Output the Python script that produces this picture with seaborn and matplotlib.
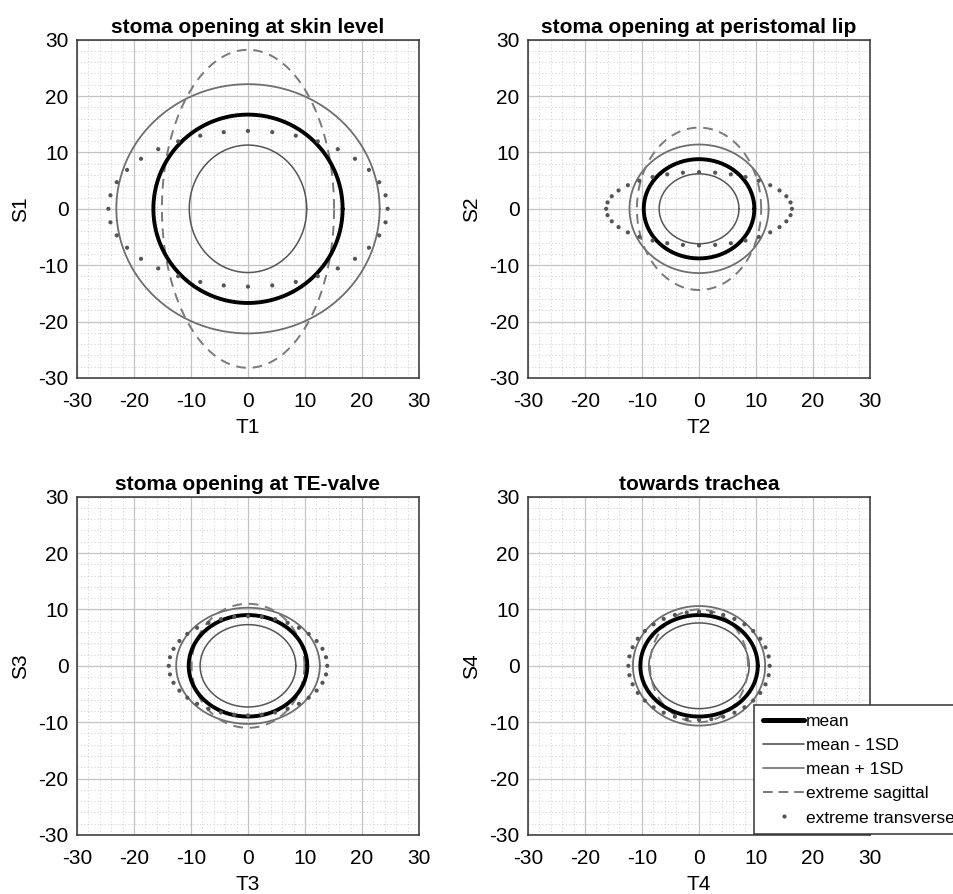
import numpy as np
import pandas as pd
import matplotlib
matplotlib.use("Agg")
import matplotlib.pyplot as plt
from matplotlib.ticker import MultipleLocator
from matplotlib.lines import Line2D
import seaborn as sns

# panel titles / axis labels
titles = ["stoma opening at skin level", "stoma opening at peristomal lip",
          "stoma opening at TE-valve", "towards trachea"]
x_labels = ["T1", "T2", "T3", "T4"]
y_labels = ["S1", "S2", "S3", "S4"]

# half-axes (transverse T, sagittal S) per panel
mean_T = [16.6, 9.7, 10.4, 10.3]
mean_S = [16.7, 8.8, 9.0, 9.0]
minus_T = [10.3, 7.0, 8.4, 8.8]
minus_S = [11.3, 6.2, 7.3, 7.6]
plus_T = [23.1, 12.2, 12.6, 11.6]
plus_S = [22.1, 11.4, 10.3, 10.6]
sag_T = [15.1, 10.9, 9.9, 8.6]
sag_S = [28.2, 14.4, 11.0, 10.0]
trans_T = [24.5, 16.3, 13.9, 12.4]
trans_S = [13.8, 6.5, 8.8, 9.6]

ticks = [-30, -20, -10, 0, 10, 20, 30]

sns.set_theme(style="white")
plt.rcParams['font.family'] = ['Liberation Sans', 'DejaVu Sans']
plt.rcParams['axes.unicode_minus'] = False
plt.rcParams['text.color'] = 'black'
plt.rcParams['axes.labelcolor'] = 'black'


def outline(a, b, n):
    t = np.linspace(0, 2 * np.pi, n)
    return pd.DataFrame({"x": a * np.cos(t), "y": b * np.sin(t)})


def ring(ax, a, b, **kw):
    sns.lineplot(data=outline(a, b, 240), x="x", y="y", sort=False,
                 estimator=None, errorbar=None, ax=ax, **kw)


fig = plt.figure(figsize=(9.54, 8.94), dpi=100)
boxes = [(0.0807, 0.5772), (0.5535, 0.5772), (0.0807, 0.0660), (0.5535, 0.0660)]

for i in range(4):
    ax = fig.add_axes([boxes[i][0], boxes[i][1], 0.3585, 0.3785])
    ax.set_xlim(-30, 30)
    ax.set_ylim(-30, 30)
    ax.xaxis.set_minor_locator(MultipleLocator(2))
    ax.yaxis.set_minor_locator(MultipleLocator(2))
    ax.grid(which="major", color="#c4c4c4", lw=0.9)
    ax.grid(which="minor", color="#cccccc", lw=0.7, ls=(0, (1, 2.5)))
    ax.set_axisbelow(True)

    ring(ax, plus_T[i], plus_S[i], color="#6e6e6e", lw=1.3)
    ring(ax, minus_T[i], minus_S[i], color="#555555", lw=1.1)
    ring(ax, sag_T[i], sag_S[i], color="#7a7a7a", lw=1.4, ls=(0, (5, 3.5)))
    ring(ax, mean_T[i], mean_S[i], color="black", lw=2.8)
    dots = outline(trans_T[i], trans_S[i], 37).iloc[:-1]
    sns.scatterplot(data=dots, x="x", y="y", color="#555555", s=9,
                    edgecolor="none", ax=ax, zorder=5)

    ax.set_xticks(ticks)
    ax.set_yticks(ticks)
    ax.tick_params(axis="both", which="both", direction="in", length=0,
                   labelsize=15, colors="black")
    ax.tick_params(axis="x", pad=10)
    ax.tick_params(axis="y", pad=6)
    for s in ax.spines.values():
        s.set_color("#333333")
        s.set_linewidth(1.1)
    ax.set_title(titles[i], fontsize=15, fontweight="bold", pad=5)
    ax.set_xlabel(x_labels[i], fontsize=15, labelpad=5)
    ax.set_ylabel(y_labels[i], fontsize=15, labelpad=6)

handles = [
    Line2D([], [], color="black", lw=3.6),
    Line2D([], [], color="#555555", lw=1.2),
    Line2D([], [], color="#6e6e6e", lw=1.2),
    Line2D([], [], color="#7a7a7a", lw=1.4, ls=(0, (5, 3))),
    Line2D([], [], color="#555555", ls="none", marker="o", markersize=3, markeredgewidth=0),
]
labels = ["mean", "mean - 1SD", "mean + 1SD", "extreme sagittal", "extreme transverse"]
leg = fig.legend(handles, labels, loc="upper left", bbox_to_anchor=(754 / 954, 1 - 705 / 894),
                 fontsize=12.5, handlelength=2.4, handletextpad=0.1, labelspacing=0.52,
                 borderpad=0.5, borderaxespad=0, frameon=True, fancybox=False)
leg.get_frame().set_edgecolor("#333333")
leg.get_frame().set_linewidth(1.1)
leg.get_frame().set_alpha(1)

fig.savefig("out.png", dpi=100)
